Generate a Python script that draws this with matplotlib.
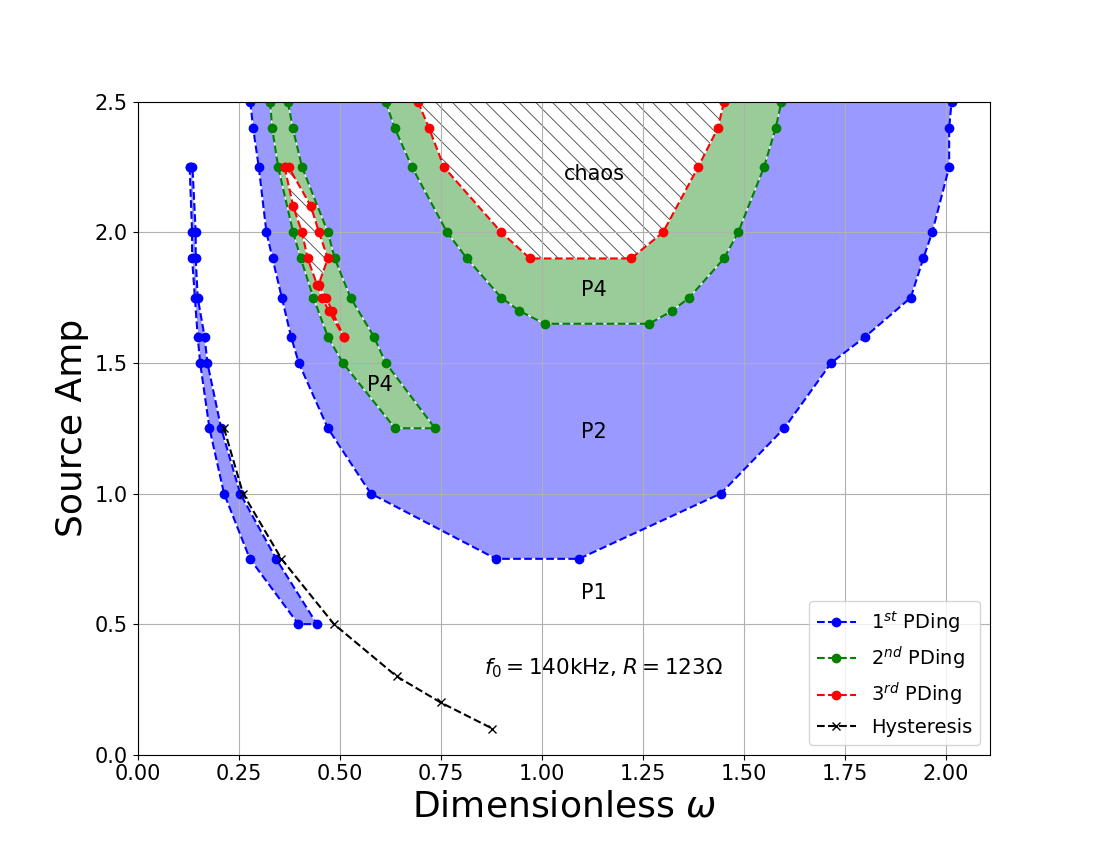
import numpy as np
import matplotlib
matplotlib.use('Agg')
import matplotlib.pyplot as plt

plt.rcParams['hatch.linewidth'] = 0.6

# 1st period doubling: narrow low-frequency band
amp_low = [2.25, 2.0, 1.9, 1.75, 1.6, 1.5, 1.25, 1.0, 0.75, 0.5]
w_low_left = [0.129, 0.135, 0.135, 0.142, 0.149, 0.155, 0.178, 0.214, 0.278, 0.398]
w_low_right = [0.136, 0.144, 0.144, 0.149, 0.166, 0.173, 0.207, 0.254, 0.343, 0.444]

# 1st period doubling: main U
amp_pd1 = [2.5, 2.4, 2.25, 2.0, 1.9, 1.75, 1.6, 1.5, 1.25, 1.0, 0.75]
w_pd1_left = [0.279, 0.286, 0.300, 0.319, 0.334, 0.357, 0.380, 0.399, 0.471, 0.577, 0.887]
w_pd1_right = [2.014, 2.008, 2.008, 1.966, 1.944, 1.913, 1.800, 1.716, 1.600, 1.443, 1.092]

# 2nd period doubling: narrow band (P4)
amp_pd2a = [2.5, 2.4, 2.25, 2.0, 1.9, 1.75, 1.6, 1.5, 1.25]
w_pd2a_left = [0.328, 0.333, 0.348, 0.385, 0.404, 0.435, 0.471, 0.508, 0.637]
w_pd2a_right = [0.372, 0.384, 0.407, 0.471, 0.488, 0.527, 0.585, 0.614, 0.736]

# 2nd period doubling: main U
amp_pd2 = [2.5, 2.4, 2.25, 2.0, 1.9, 1.75, 1.7, 1.65]
w_pd2_left = [0.614, 0.636, 0.679, 0.766, 0.815, 0.900, 0.944, 1.007]
w_pd2_right = [1.593, 1.579, 1.550, 1.486, 1.451, 1.365, 1.323, 1.266]

# 3rd period doubling: narrow band
amp_pd3a = [2.25, 2.1, 2.0, 1.9, 1.8, 1.75, 1.7, 1.6]
w_pd3a_left = [0.364, 0.385, 0.407, 0.421, 0.444, 0.456, 0.473, 0.510]
w_pd3a_right = [0.374, 0.429, 0.449, 0.471, 0.448, 0.467, 0.481, 0.510]

# 3rd period doubling: main U (chaos boundary)
amp_pd3 = [2.5, 2.4, 2.25, 2.0, 1.9]
w_pd3_left = [0.694, 0.721, 0.758, 0.900, 0.971]
w_pd3_right = [1.451, 1.436, 1.387, 1.300, 1.221]

# hysteresis
amp_hyst = [1.25, 1.0, 0.75, 0.5, 0.3, 0.2, 0.1]
w_hyst = [0.214, 0.261, 0.356, 0.486, 0.641, 0.750, 0.878]

BLUE_FILL = '#9999ff'
GREEN_FILL = '#99cc99'


def closed(left, right, amp):
    # left side top->bottom, right side bottom->top
    x = list(left) + list(right)[::-1] + [left[0]]
    y = list(amp) + list(amp)[::-1] + [amp[0]]
    return x, y


def u_shape(left, right, amp):
    x = list(left) + list(right)[::-1]
    y = list(amp) + list(amp)[::-1]
    return x, y


fig, ax = plt.subplots(figsize=(11, 8.48), dpi=100)

# fills
x, y = u_shape(w_pd1_left, w_pd1_right, amp_pd1)
ax.fill(x, y, facecolor=BLUE_FILL, edgecolor='white', linewidth=0.8)
x, y = closed(w_low_left, w_low_right, amp_low)
ax.fill(x, y, facecolor=BLUE_FILL, edgecolor='white', linewidth=0.8)
x, y = u_shape(w_pd2_left, w_pd2_right, amp_pd2)
ax.fill(x, y, facecolor=GREEN_FILL, edgecolor='white', linewidth=0.8)
x, y = closed(w_pd2a_left, w_pd2a_right, amp_pd2a)
ax.fill(x, y, facecolor=GREEN_FILL, edgecolor='white', linewidth=0.8)

# chaotic regions: white with hatching
for xs, ys in [u_shape(w_pd3_left, w_pd3_right, amp_pd3),
               closed(w_pd3a_left, w_pd3a_right, amp_pd3a)]:
    ax.fill(xs, ys, facecolor='white', edgecolor='white', linewidth=0.8)
    ax.fill(xs, ys, facecolor='none', edgecolor='#444444', linewidth=0, hatch='\\\\')

# boundaries
x, y = u_shape(w_pd1_left, w_pd1_right, amp_pd1)
ax.plot(x, y, 'bo--', label='1$^{st}$ PDing')
x, y = closed(w_low_left, w_low_right, amp_low)
ax.plot(x, y, 'bo--')
x, y = u_shape(w_pd2_left, w_pd2_right, amp_pd2)
ax.plot(x, y, 'go--', label='2$^{nd}$ PDing')
x, y = closed(w_pd2a_left, w_pd2a_right, amp_pd2a)
ax.plot(x, y, 'go--')
x, y = u_shape(w_pd3_left, w_pd3_right, amp_pd3)
ax.plot(x, y, 'ro--', label='3$^{rd}$ PDing')
x, y = closed(w_pd3a_left, w_pd3a_right, amp_pd3a)
ax.plot(x, y, 'ro--')
ax.plot(w_hyst, amp_hyst, 'kx--', label='Hysteresis')

# region labels
ax.text(1.13, 2.225, 'chaos', fontsize=15, ha='center', va='center')
ax.text(1.13, 1.78, 'P4', fontsize=15, ha='center', va='center')
ax.text(0.60, 1.415, 'P4', fontsize=15, ha='center', va='center')
ax.text(1.13, 1.235, 'P2', fontsize=15, ha='center', va='center')
ax.text(1.13, 0.62, 'P1', fontsize=15, ha='center', va='center')
ax.text(1.153, 0.333, r'$f_0 = 140$kHz, $R = 123\Omega$', fontsize=15.5,
        ha='center', va='center')

ax.set_xlim(0, 2.109)
ax.set_ylim(0, 2.5)
ax.set_xlabel(r'Dimensionless $\omega$', fontsize=26)
ax.set_ylabel('Source Amp', fontsize=26)
ax.tick_params(labelsize=15)
ax.grid(True)
ax.legend(loc='lower right', fontsize=14)

plt.savefig('out.png', dpi=100)
